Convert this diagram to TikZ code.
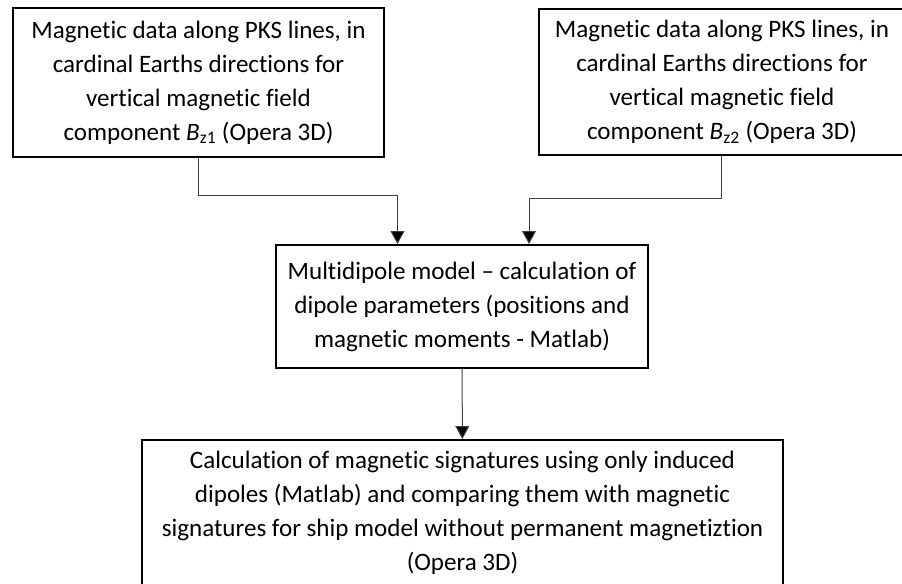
\documentclass[tikz,border=0pt]{standalone}
\usepackage{fontspec}
\setmainfont{Carlito}[Ligatures={NoCommon}]
\usetikzlibrary{arrows.meta,calc,positioning}
\tikzset{
mybox/.style={
  rectangle,
  line width=1.5pt,
  inner sep=0pt,
  align=center,
  draw=black,
  font=\fontsize{18.8pt}{25.5pt}\selectfont,
  }
}
\tikzset{
myline/.style={
  line width=0.75pt,
  draw=black!75,
  -{Triangle[width=10.5pt,length=9.75pt,fill=black]}
  }
}

\begin{document}
\begin{tikzpicture}[x=0.75pt,y=-0.75pt]
    \useasboundingbox (0,0) rectangle (902,583);
    \clip (0,0) rectangle (902,583);

    % input data
    \node[mybox, minimum width=278.25pt, minimum height=111.75pt] (data_bz1) at (198.5,82.5)
        {Magnetic data along PKS lines, in\\cardinal Earths directions for\\vertical magnetic field\\component \textit{B}\textsubscript{z1} (Opera 3D)};
    \node[mybox, minimum width=275pt, minimum height=109.5pt] (data_bz2) at (722,82)
        {Magnetic data along PKS lines, in\\cardinal Earths directions for\\vertical magnetic field\\component \textit{B}\textsubscript{z2} (Opera 3D)};

    % model part
    \node[mybox, minimum width=279pt, minimum height=92.25pt] (multidipole) at (462,306.5)
        {Multidipole model -- calculation of\\dipole parameters (positions and\\magnetic moments - Matlab)};

    % result part
    \node[mybox, minimum width=480.75pt, minimum height=109.5pt] (signatures) at (462.5,513)
        {Calculation of magnetic signatures using only induced\\dipoles (Matlab) and comparing them with magnetic\\signatures for ship model without permanent magnetiztion\\(Opera 3D)};

    % edges
    \draw[myline] (data_bz1.south) -- ++(0,37) -| ([xshift=-48.4pt]multidipole.north);
    \draw[myline] ([xshift=-0.25pt]data_bz2.south) -- ++(0,42) -| ([xshift=50.25pt]multidipole.north);
    \draw[myline] (multidipole) -- (signatures);
\end{tikzpicture}
\end{document}
